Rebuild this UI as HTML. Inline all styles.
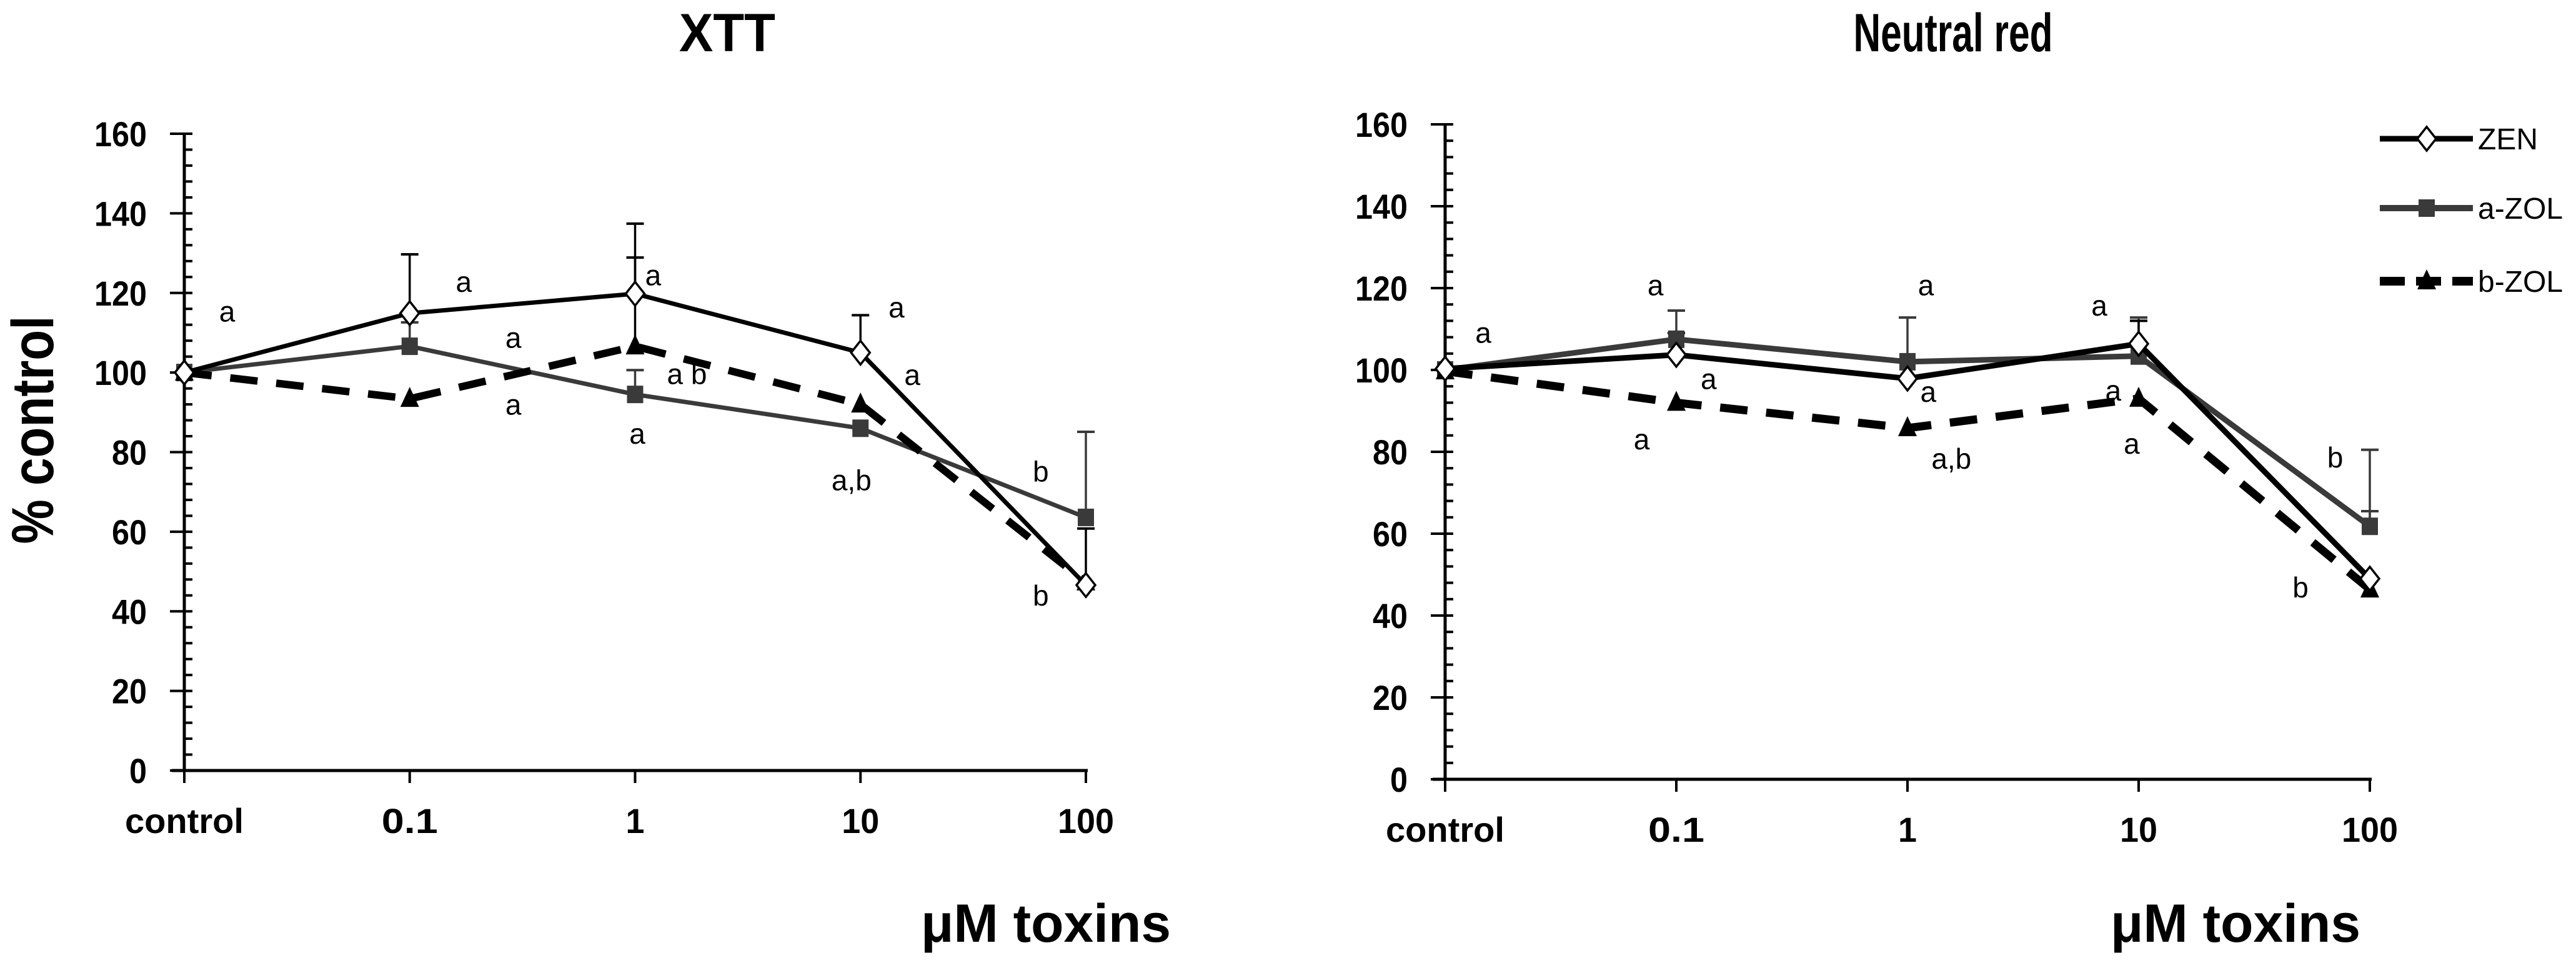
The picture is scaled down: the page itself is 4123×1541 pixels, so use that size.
<!DOCTYPE html>
<html><head><meta charset="utf-8">
<style>
html,body{margin:0;padding:0;background:#fff;}
svg{display:block;font-family:"Liberation Sans",sans-serif;}
</style></head>
<body>
<svg id="root" width="4123" height="1541" viewBox="0 0 4123 1541" xmlns="http://www.w3.org/2000/svg"></svg>
<script>
// ---- data ----
const categories = ["control","0.1","1","10","100"];
const seriesNames = ["ZEN","a-ZOL","b-ZOL"];
const yTicks = [0,20,40,60,80,100,120,140,160];
// XTT panel
const xttZEN  = [100,114.9,119.8,105,46.6];
const xttAZOL = [100,106.6,94.5,86,63.6];
const xttBZOL = [100,93.4,106.6,92,47.3];
const xttErrSeries = [0,1,0,2,1,0,1,2];
const xttErrCat    = [1,1,2,2,2,3,4,4];
const xttErrTop    = [129.7,112.6,137.4,128.9,100.6,114.4,85.1,60.8];
const xttLetters = ["a","a","a","a","a","a b","a","a","a","a,b","b","b"];
const xttLetterX = [0.19,1.24,1.46,1.46,2.08,2.23,2.01,3.16,3.23,2.96,3.80,3.80];
const xttLetterY = [115.2,122.6,108.6,91.8,124.3,99.5,84.5,116.2,99.2,72.8,75,43.8];
// Neutral red panel
const nrZEN  = [100.3,103.7,97.9,106.4,49];
const nrAZOL = [100,107.5,102,103.4,61.8];
const nrBZOL = [99.7,92,85.8,93,46.4];
const nrErrSeries = [1,0,1,1,0,1,1];
const nrErrCat    = [1,1,2,3,3,4,4];
const nrErrTop    = [114.5,109,112.8,112.8,112,80.5,65.5];
const nrLetters = ["a","a","a","a","a","a","a,b","a","a","a","b","b"];
const nrLetterX = [0.165,0.91,1.14,0.85,2.08,2.09,2.19,2.83,2.89,2.97,3.85,3.70];
const nrLetterY = [108.9,120.5,97.6,82.9,120.5,94.5,78.2,115.6,94.8,81.8,78.5,46.7];

const NS="http://www.w3.org/2000/svg";
const root=document.getElementById('root');
function mk(tag,attrs,parent){const e=document.createElementNS(NS,tag);for(const k in attrs)e.setAttribute(k,attrs[k]);(parent||root).appendChild(e);return e;}

function marker(kind,x,y,g){
  let e;
  if(kind===0){e=mk('polygon',{points:`${x},${y-19} ${x+15},${y} ${x},${y+19} ${x-15},${y}`,fill:"#fff",stroke:"#000","stroke-width":3.5},g);}
  else if(kind===1){e=mk('rect',{x:x-13,y:y-14,width:26,height:28,fill:"#3a3a3a"},g);}
  else {e=mk('polygon',{points:`${x},${y-19} ${x+15},${y+13} ${x-15},${y+13}`,fill:"#000"},g);}
  return e;
}

function panel(p){
  const styles=p.styles;
  const g=mk('g',{});
  
  
  const X=i=>p.x0+i*(p.x1-p.x0)/4;
  const Y=v=>p.y0-v*(p.y0-p.y160)/160;
  const t=mk('text',{x:p.titleX,y:82,"text-anchor":"middle","font-size":86,"font-weight":"bold",textLength:p.titleW,lengthAdjust:"spacingAndGlyphs"},g);
  t.textContent=p.title;
  
  
  const ax=mk('g',{},g);
  
  
  mk('line',{x1:p.x0,y1:Y(0),x2:p.x0,y2:Y(160),stroke:"#000","stroke-width":5},ax);
  for(let v=0;v<=160;v+=4){
    if(v%20===0) mk('line',{x1:p.x0-23,y1:Y(v),x2:p.x0+13,y2:Y(v),stroke:"#000","stroke-width":4},ax);
    else mk('line',{x1:p.x0,y1:Y(v),x2:p.x0+13,y2:Y(v),stroke:"#000","stroke-width":4},ax);
  }
  yTicks.forEach(v=>{
    const tl=mk('text',{x:p.x0-60,y:Y(v)+20,"text-anchor":"end","font-size":56,"font-weight":"bold",textLength:String(v).length*28,lengthAdjust:"spacingAndGlyphs"},ax);
    tl.textContent=v;
    
    
  });
  const xa=mk('g',{},g);
  
  
  mk('line',{x1:p.x0-20,y1:Y(0),x2:p.x1+3,y2:Y(0),stroke:"#000","stroke-width":5},xa);
  categories.forEach((c,i)=>{
    mk('line',{x1:X(i),y1:Y(0),x2:X(i),y2:Y(0)+20,stroke:"#000","stroke-width":4},xa);
    const cl=mk('text',{x:X(i),y:Y(0)+100,"text-anchor":"middle","font-size":56,"font-weight":"bold"},xa);
    cl.setAttribute('textLength',c==="control"?190:c.length*30);
    cl.setAttribute('lengthAdjust','spacingAndGlyphs');
    cl.textContent=c;
    
    
  });
  const xt=mk('text',{x:p.xTitleX,y:1507,"font-size":86,"font-weight":"bold",textLength:400,lengthAdjust:"spacingAndGlyphs"},g);
  xt.textContent="\u03bcM toxins";
  
  
  const eg=mk('g',{},g);
  
  
  p.errTop.forEach((top,k)=>{
    const s=p.errSeries[k],c=p.errCat[k];
    const base=p.series[s][c];
    const col=s===1?"#3a3a3a":"#000";
    mk('line',{x1:X(c),y1:Y(base),x2:X(c),y2:Y(top),stroke:col,"stroke-width":3.5},eg);
    mk('line',{x1:X(c)-14,y1:Y(top),x2:X(c)+14,y2:Y(top),stroke:col,"stroke-width":4},eg);
  });
  [1,2,0].forEach(s=>{
    const sg=mk('g',{},g);
    
    
    const pts=p.series[s].map((v,i)=>X(i)+","+Y(v)).join(" ");
    const pl=mk('polyline',{points:pts,fill:"none",stroke:styles[s].stroke,"stroke-width":styles[s].w,"stroke-linejoin":"round"},sg);
    if(styles[s].dash) pl.setAttribute('stroke-dasharray',styles[s].dash);
    p.series[s].forEach((v,i)=>{
      const m=marker(s,X(i),Y(v),sg);
      
      
    });
  });
  p.letters.forEach((L,k)=>{
    const lt=mk('text',{x:X(p.letterX[k]),y:Y(p.letterY[k])+15,"text-anchor":"middle","font-size":46},g);
    lt.textContent=L;
    
    
  });
}

panel({name:"xtt-chart",title:"XTT",titleX:1164,titleW:154,x0:295,x1:1738,y0:1233,y160:214,xTitleX:1474,
  styles:[{stroke:"#000",w:7,dash:null},{stroke:"#3a3a3a",w:7,dash:null},{stroke:"#000",w:12,dash:"44 30"}],
  series:[xttZEN,xttAZOL,xttBZOL],errSeries:xttErrSeries,errCat:xttErrCat,errTop:xttErrTop,
  letters:xttLetters,letterX:xttLetterX,letterY:xttLetterY});
panel({name:"neutral-red-chart",title:"Neutral red",titleX:3126,titleW:319,x0:2313,x1:3793,y0:1247,y160:199,xTitleX:3378,
  styles:[{stroke:"#000",w:9,dash:null},{stroke:"#3a3a3a",w:9,dash:null},{stroke:"#000",w:13,dash:"44 30"}],
  series:[nrZEN,nrAZOL,nrBZOL],errSeries:nrErrSeries,errCat:nrErrCat,errTop:nrErrTop,
  letters:nrLetters,letterX:nrLetterX,letterY:nrLetterY});

const yt=mk('text',{x:0,y:0,"text-anchor":"middle","font-size":95,"font-weight":"bold",textLength:365,lengthAdjust:"spacingAndGlyphs",transform:"translate(85,688) rotate(-90)"});
yt.textContent="% control";



const legStyles=[{stroke:"#000",w:9,dash:null},{stroke:"#3a3a3a",w:10,dash:null},{stroke:"#000",w:14,dash:"40 18"}];
const lg=mk('g',{});


const legY=[222,333,450];
seriesNames.forEach((n,s)=>{
  const eg=mk('g',{},lg);
  
  
  const ln=mk('line',{x1:3809,y1:legY[s],x2:3958,y2:legY[s],stroke:legStyles[s].stroke,"stroke-width":legStyles[s].w},eg);
  if(legStyles[s].dash) ln.setAttribute('stroke-dasharray',legStyles[s].dash);
  marker(s,3884,legY[s],eg);
  const tx=mk('text',{x:3966,y:legY[s]+17,"font-size":48},eg);
  tx.textContent=n;
});
</script>
</body></html>
